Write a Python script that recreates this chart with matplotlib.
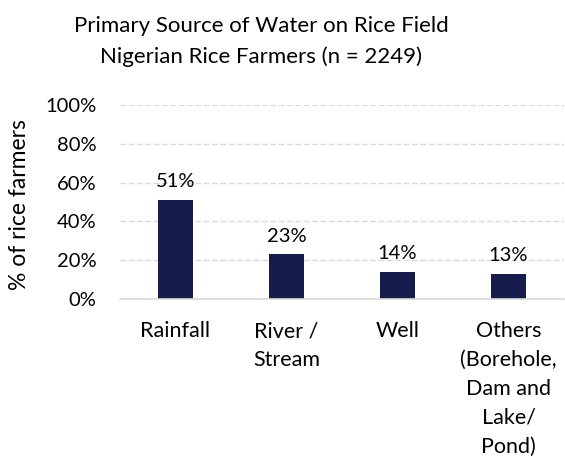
import matplotlib
matplotlib.use("Agg")
import matplotlib.pyplot as plt
from matplotlib.ticker import FuncFormatter

categories = ["Rainfall", "River /\nStream", "Well", "Others\n(Borehole,\nDam and\nLake/\nPond)"]
values = [51, 23, 14, 13]
yticks = [0, 20, 40, 60, 80, 100]

plt.rcParams['font.family'] = ['Lato', 'DejaVu Sans']

fig = plt.figure(figsize=(5.65, 4.57), dpi=100)
ax = fig.add_axes([120/565, 1-299/457, 444/565, 194/457])

x = range(len(categories))
ax.bar(x, values, width=0.32, color='#161c4b', zorder=3)
for xi, v in zip(x, values):
    ax.annotate(f"{v}%", (xi, v), xytext=(0, 7), textcoords='offset points',
                ha='center', va='bottom', fontsize=14.5, color='#000000')

ax.set_xlim(-0.5, len(categories) - 0.5)
ax.set_ylim(0, 100)
ax.set_yticks(yticks)
ax.yaxis.set_major_formatter(FuncFormatter(lambda v, p: f"{int(v)}%"))
ax.set_xticks(list(x))
ax.set_xticklabels(categories, linespacing=1.55)
ax.tick_params(axis='y', length=0, labelsize=14.5, colors='#000000', pad=17)
ax.tick_params(axis='x', length=0, labelsize=15.5, colors='#000000', pad=16)
for lab in ax.get_xticklabels():
    lab.set_verticalalignment('top')

ax.grid(axis='y', color='#d9d9d9', linestyle=(0, (4, 2)), linewidth=1, zorder=0)
for s in ['top', 'right', 'left']:
    ax.spines[s].set_visible(False)
ax.spines['bottom'].set_color('#d9d9d9')
ax.spines['bottom'].set_linewidth(1.2)
ax.spines['bottom'].set_zorder(4)

fig.text(20/565, 1-205/457, "% of rice farmers", rotation=90, ha='center', va='center', fontsize=16.5)
fig.text(261/565, 1-32/457, "Primary Source of Water on Rice Field", ha='center', va='baseline', fontsize=16)
fig.text(261/565, 1-63/457, "Nigerian Rice Farmers (n = 2249)", ha='center', va='baseline', fontsize=16)

fig.savefig("out.png", dpi=100)
